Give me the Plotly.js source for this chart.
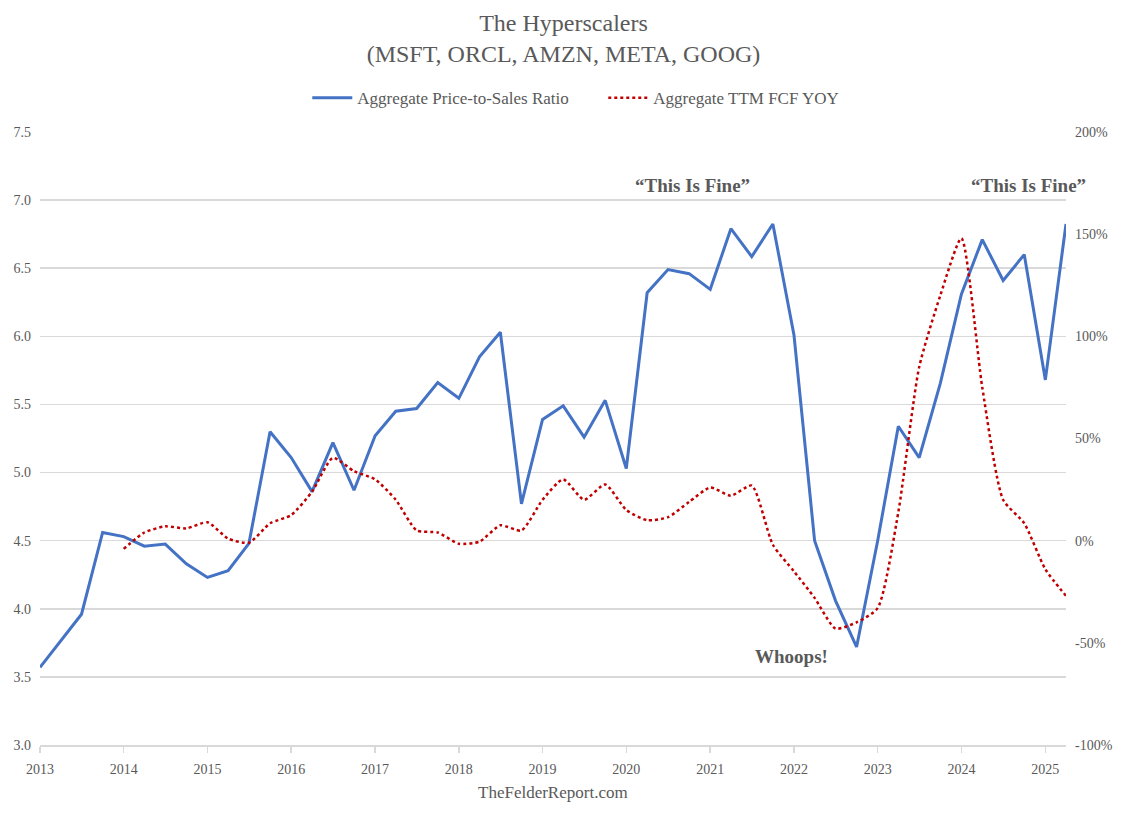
<!DOCTYPE html>
<html>
<head>
<meta charset="utf-8">
<script src="https://cdn.plot.ly/plotly-3.0.1.min.js"></script>
<style>html,body{margin:0;padding:0;background:#fff;}#chart{width:1127px;height:814px;}</style>
</head>
<body>
<div id="chart"></div>
<script>
const quarters = [
  '2013-01-01','2013-04-01','2013-07-01','2013-10-01',
  '2014-01-01','2014-04-01','2014-07-01','2014-10-01',
  '2015-01-01','2015-04-01','2015-07-01','2015-10-01',
  '2016-01-01','2016-04-01','2016-07-01','2016-10-01',
  '2017-01-01','2017-04-01','2017-07-01','2017-10-01',
  '2018-01-01','2018-04-01','2018-07-01','2018-10-01',
  '2019-01-01','2019-04-01','2019-07-01','2019-10-01',
  '2020-01-01','2020-04-01','2020-07-01','2020-10-01',
  '2021-01-01','2021-04-01','2021-07-01','2021-10-01',
  '2022-01-01','2022-04-01','2022-07-01','2022-10-01',
  '2023-01-01','2023-04-01','2023-07-01','2023-10-01',
  '2024-01-01','2024-04-01','2024-07-01','2024-10-01',
  '2025-01-01','2025-04-01'
];
const priceToSales = [
  3.57, 3.76, 3.96, 4.56,
  4.53, 4.46, 4.475, 4.33,
  4.23, 4.28, 4.48, 5.30,
  5.11, 4.86, 5.22, 4.87,
  5.27, 5.45, 5.47, 5.66,
  5.545, 5.85, 6.03, 4.77,
  5.39, 5.49, 5.26, 5.53,
  5.03, 6.32, 6.49, 6.46,
  6.345, 6.79, 6.585, 6.825,
  6.01, 4.50, 4.06, 3.72,
  4.50, 5.34, 5.11, 5.655,
  6.31, 6.71, 6.41, 6.60,
  5.68, 6.825
];
const fcfYoY = [
  null, null, null, null,
  -4, 4, 7, 6,
  9, 1, -1, 8.5,
  12.5, 24, 40.5, 34,
  30, 20, 5, 4,
  -1.5, -0.5, 7.5, 5,
  20, 30, 20, 27.5,
  15, 10, 11.5, 19,
  26, 22, 27, -2,
  -15, -28, -43, -40,
  -33, 14, 85, 120,
  148, 75, 20, 8.5,
  -14, -27
];
const yearTicks = ['2013','2014','2015','2016','2017','2018','2019','2020','2021','2022','2023','2024','2025'];
const leftTicks = [3.0, 3.5, 4.0, 4.5, 5.0, 5.5, 6.0, 6.5, 7.0, 7.5];
const rightTicks = [-100, -50, 0, 50, 100, 150, 200];

const gray = '#595959';
const serif = '"Liberation Serif", "DejaVu Serif", serif';

const traces = [
  {
    x: quarters, y: priceToSales, name: 'Aggregate Price-to-Sales Ratio',
    type: 'scatter', mode: 'lines',
    line: {color: '#4472C4', width: 3}
  },
  {
    x: quarters, y: fcfYoY, name: 'Aggregate TTM FCF YOY',
    type: 'scatter', mode: 'lines', yaxis: 'y2', connectgaps: false,
    line: {color: '#C00000', width: 2.5, dash: 'dot', shape: 'spline', smoothing: 0.6}
  }
];

const layout = {
  width: 1127, height: 814,
  paper_bgcolor: '#fff', plot_bgcolor: '#fff',
  margin: {l: 40, r: 61, t: 132, b: 69},
  font: {family: serif, color: gray, size: 14},
  title: {
    text: 'The Hyperscalers<br>(MSFT, ORCL, AMZN, META, GOOG)',
    font: {family: serif, size: 24, color: gray},
    x: 0.5, xanchor: 'center', y: 1 - 31/814, yref: 'container', yanchor: 'middle'
  },
  showlegend: true,
  legend: {
    orientation: 'h', x: 0.549, xanchor: 'center', y: 1.055, yanchor: 'middle',
    font: {family: serif, size: 17, color: gray}, itemwidth: 40, tracegroupgap: 0,
    entrywidth: 241
  },
  xaxis: {
    type: 'date',
    range: ['2013-01-01', '2025-04-01'],
    tickvals: yearTicks.map(y => y + '-01-01'),
    ticktext: yearTicks,
    showgrid: false, zeroline: false,
    showline: true, linecolor: '#d9d9d9', linewidth: 1.5,
    ticks: 'outside', ticklen: 6, tickcolor: '#d9d9d9', tickwidth: 1.5,
    ticklabelstandoff: 5,
    tickfont: {family: serif, size: 14, color: gray}
  },
  yaxis: {
    range: [3.0, 7.5],
    tickvals: leftTicks, ticktext: leftTicks.map(v => v.toFixed(1)),
    showgrid: true, gridcolor: '#d9d9d9', gridwidth: 1.5,
    zeroline: false, showline: false, ticks: '',
    ticklabelstandoff: 8,
    tickfont: {family: serif, size: 14, color: gray}
  },
  yaxis2: {
    overlaying: 'y', side: 'right',
    range: [-100, 200],
    tickvals: rightTicks, ticktext: rightTicks.map(v => v + '%'),
    showgrid: false, zeroline: false, showline: false, ticks: '',
    ticklabelstandoff: 8,
    tickfont: {family: serif, size: 14, color: gray}
  },
  annotations: [
    {text: '<b>“This Is Fine”</b>', xref: 'paper', yref: 'paper', x: 0.6355, y: 0.912,
     showarrow: false, font: {family: serif, size: 19, color: gray}, xanchor: 'center', yanchor: 'middle'},
    {text: '<b>“This Is Fine”</b>', xref: 'paper', yref: 'paper', x: 0.963, y: 0.912,
     showarrow: false, font: {family: serif, size: 19, color: gray}, xanchor: 'center', yanchor: 'middle'},
    {text: '<b>Whoops!</b>', xref: 'paper', yref: 'paper', x: 0.732, y: 0.145,
     showarrow: false, font: {family: serif, size: 19, color: gray}, xanchor: 'center', yanchor: 'middle'},
    {text: 'TheFelderReport.com', xref: 'paper', yref: 'paper', x: 0.5, y: -0.078,
     showarrow: false, font: {family: serif, size: 17, color: gray}, xanchor: 'center', yanchor: 'middle'}
  ]
};

Plotly.newPlot('chart', traces, layout, {displayModeBar: false, staticPlot: true});
</script>
</body>
</html>
